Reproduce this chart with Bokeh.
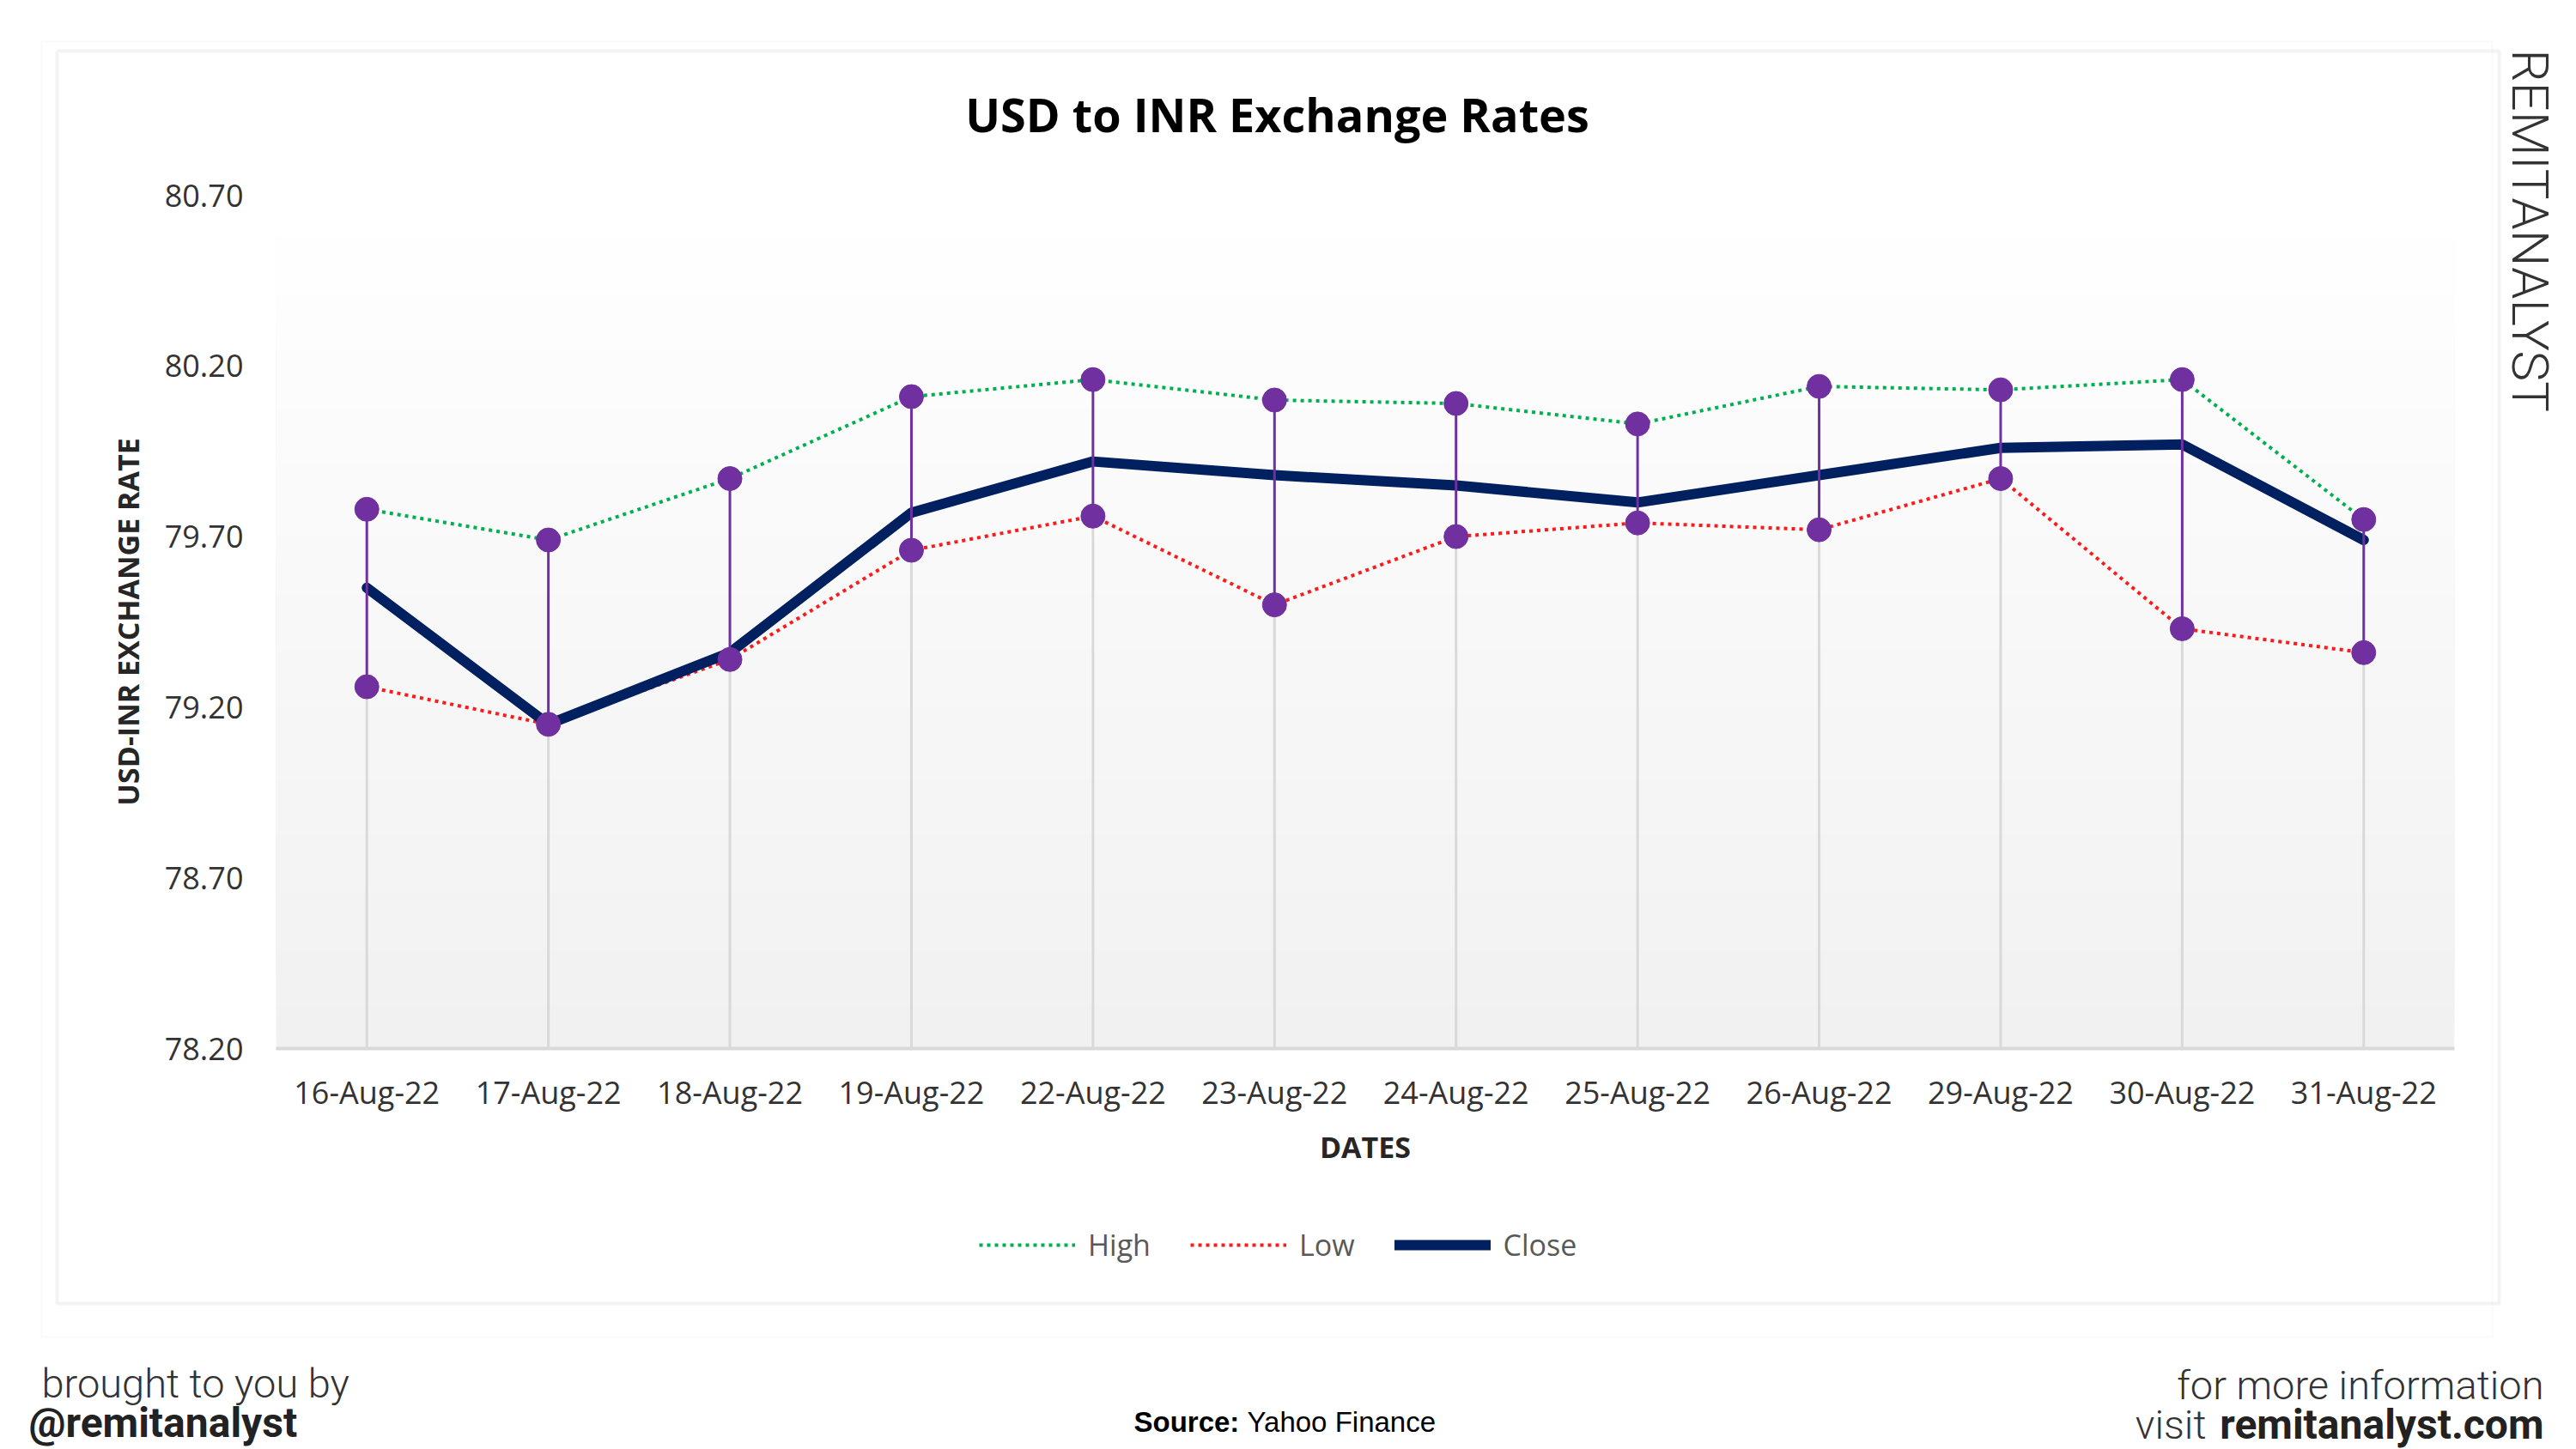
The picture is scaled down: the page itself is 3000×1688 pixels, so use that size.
import math
import numpy as np
from bokeh.plotting import figure
from bokeh.layouts import column
from bokeh.models import (Range1d, FactorRange, FixedTicker, NumeralTickFormatter, Label,
                          BoxAnnotation, Legend, LegendItem, ColumnDataSource)
from bokeh.embed import file_html
from bokeh.resources import INLINE

# ---------------- data ----------------
dates = ["16-Aug-22", "17-Aug-22", "18-Aug-22", "19-Aug-22", "22-Aug-22", "23-Aug-22",
         "24-Aug-22", "25-Aug-22", "26-Aug-22", "29-Aug-22", "30-Aug-22", "31-Aug-22"]
high = [79.78, 79.69, 79.87, 80.11, 80.16, 80.10, 80.09, 80.03, 80.14, 80.13, 80.16, 79.75]
low = [79.26, 79.15, 79.34, 79.66, 79.76, 79.50, 79.70, 79.74, 79.72, 79.87, 79.43, 79.36]
close = [79.55, 79.15, 79.36, 79.77, 79.92, 79.88, 79.85, 79.80, 79.88, 79.96, 79.97, 79.69]
y_ticks = [78.20, 78.70, 79.20, 79.70, 80.20, 80.70]

title_text = "USD to INR Exchange Rates"
y_title = "USD-INR EXCHANGE RATE"
x_title = "DATES"
series_names = ["High", "Low", "Close"]

W, H = 3000, 1688

HIGH_STYLE = dict(line_color="#00b050", line_width=4, line_dash="4 5")
LOW_STYLE = dict(line_color="#ff1a1a", line_width=4, line_dash="4 5")
CLOSE_STYLE = dict(line_color="#002060", line_width=12, line_join="round", line_cap="round")

# ---------------- main chart figure ----------------
p = figure(width=W, height=H,
           x_range=FactorRange(factors=dates),
           y_range=Range1d(y_ticks[0], y_ticks[-1]),
           output_backend="svg", toolbar_location=None, title=None,
           min_border_left=321, min_border_right=142,
           min_border_top=227, min_border_bottom=467)
p.frame_align = False
p.xgrid.visible = False
p.ygrid.visible = False
p.outline_line_color = None
p.background_fill_color = "white"
p.border_fill_color = "white"

# gradient plot-area background (white at top -> light gray at bottom)
n_bands = 60
edges = np.linspace(y_ticks[0], y_ticks[-1], n_bands + 1)
for i in range(n_bands):
    frac = i / (n_bands - 1)
    g = int(round(241 + (255 - 241) * frac))
    p.add_layout(BoxAnnotation(bottom=float(edges[i]), top=y_ticks[-1],
                               fill_color="#%02x%02x%02x" % (g, g, g), fill_alpha=1.0,
                               line_alpha=0, level="underlay"))

src = ColumnDataSource(dict(date=dates, high=high, low=low, close=close,
                            base=[y_ticks[0]] * len(dates)))

# drop lines
p.segment(x0="date", y0="base", x1="date", y1="low", source=src,
          line_color="#d9d9d9", line_width=3)
# high / low dotted series
r_high = p.line("date", "high", source=src, **HIGH_STYLE)
r_low = p.line("date", "low", source=src, **LOW_STYLE)
# close
r_close = p.line("date", "close", source=src, **CLOSE_STYLE)
# high-low lines and markers
p.segment(x0="date", y0="low", x1="date", y1="high", source=src,
          line_color="#7030a0", line_width=3)
p.scatter("date", "high", source=src, size=28, fill_color="#7030a0", line_color="#7030a0")
p.scatter("date", "low", source=src, size=28, fill_color="#7030a0", line_color="#7030a0")

# ---------------- axes ----------------
yax = p.yaxis[0]
yax.ticker = FixedTicker(ticks=y_ticks)
yax.formatter = NumeralTickFormatter(format="0.00")
yax.axis_line_color = None
yax.major_tick_line_color = None
yax.minor_tick_line_color = None
yax.major_tick_out = 0
yax.major_tick_in = 0
yax.major_label_standoff = 38
yax.major_label_text_font = "Open Sans"
yax.major_label_text_font_size = "36px"
yax.major_label_text_color = "#333333"
yax.axis_label = y_title
yax.axis_label_text_font = "Open Sans"
yax.axis_label_text_font_style = "bold"
yax.axis_label_text_font_size = "34px"
yax.axis_label_text_color = "#262626"
yax.axis_label_standoff = 17

xax = p.xaxis[0]
xax.axis_line_color = "#d9d9d9"
xax.axis_line_width = 4
xax.major_tick_line_color = None
xax.minor_tick_line_color = None
xax.major_tick_out = 0
xax.major_tick_in = 0
xax.major_label_standoff = 26
xax.major_label_text_font = "Open Sans"
xax.major_label_text_font_size = "36px"
xax.major_label_text_color = "#333333"
xax.axis_label = x_title
xax.axis_label_text_font = "Open Sans"
xax.axis_label_text_font_style = "bold"
xax.axis_label_text_font_size = "34px"
xax.axis_label_text_color = "#262626"
xax.axis_label_standoff = 13

# ---------------- transparent overlay for frames, legend and page texts ----------------
ov = figure(width=W, height=H, x_range=Range1d(0, W), y_range=Range1d(H, 0),
            output_backend="svg", toolbar_location=None, title=None,
            x_axis_type=None, y_axis_type=None,
            min_border_left=0, min_border_right=0, min_border_top=0, min_border_bottom=0,
            margin=(-H, 0, 0, 0))
ov.frame_align = False
ov.xgrid.visible = False
ov.ygrid.visible = False
ov.outline_line_color = None
ov.background_fill_color = None
ov.border_fill_color = None

ov.add_layout(BoxAnnotation(left=48, right=2902, top=48, bottom=1557,
                            left_units="canvas", right_units="canvas",
                            top_units="canvas", bottom_units="canvas",
                            fill_alpha=0, line_color="#ebebeb", line_width=2))
ov.add_layout(BoxAnnotation(left=66, right=2910, top=59, bottom=1518,
                            left_units="canvas", right_units="canvas",
                            top_units="canvas", bottom_units="canvas",
                            fill_alpha=0, line_color="#d6d6d6", line_width=4))

# legend (sample glyphs share the styles of the chart's series)
nan = float("nan")
lh = ov.line(x=[nan], y=[nan], **HIGH_STYLE)
ll = ov.line(x=[nan], y=[nan], **LOW_STYLE)
lc = ov.line(x=[nan], y=[nan], **CLOSE_STYLE)
legend = Legend(items=[LegendItem(label=series_names[0], renderers=[lh]),
                       LegendItem(label=series_names[1], renderers=[ll]),
                       LegendItem(label=series_names[2], renderers=[lc])],
                orientation="horizontal", location=(1140, 215),
                glyph_width=112, glyph_height=36, label_height=36,
                label_standoff=15, spacing=46, padding=0, margin=0,
                border_line_color=None, background_fill_alpha=0,
                label_text_font="Open Sans", label_text_font_size="34px",
                label_text_color="#595959")
ov.add_layout(legend)


def lab(x, y, text, size, font="Open Sans", style="normal", color="#000000",
        align="left", baseline="alphabetic", angle=0.0):
    ov.add_layout(Label(x=x, y=y, x_units="canvas", y_units="canvas", text=text,
                        text_font=font, text_font_size=size, text_font_style=style,
                        text_color=color, text_align=align, text_baseline=baseline,
                        angle=angle))


lab(1487, 132, title_text, "54px", style="bold", color="#000000",
    align="center", baseline="middle")
lab(2946, 57, "REMITANALYST", "60px", font="Roboto Light, Roboto", color="#333333",
    align="left", baseline="middle", angle=-math.pi / 2)

lab(48, 1611, "brought to you by", "47px", font="Roboto Light, Roboto", color="#333333")
lab(33, 1657, "@remitanalyst", "48px", font="Roboto", style="bold", color="#222222")
lab(1320, 1656, "Source:", "33px", font="Liberation Sans", style="bold", color="#000000")
lab(1452, 1656, "Yahoo Finance", "33px", font="Liberation Sans", color="#000000")
lab(2962, 1613, "for more information", "47px", font="Roboto Light, Roboto",
    color="#333333", align="right")
lab(2962, 1659, "remitanalyst.com", "48px", font="Roboto", style="bold",
    color="#222222", align="right")
lab(2569, 1659, "visit", "47px", font="Roboto Light, Roboto", color="#333333", align="right")

layout = column(p, ov)
open("out.html", "w").write(file_html(layout, INLINE))
